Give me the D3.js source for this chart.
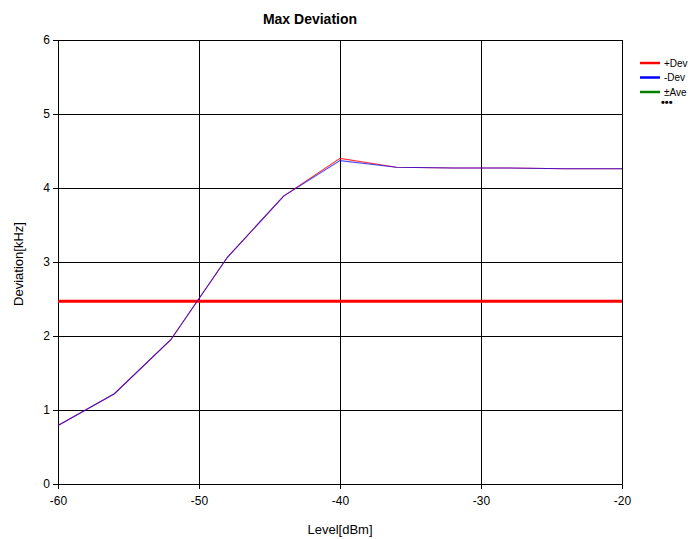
<!DOCTYPE html>
<html><head><meta charset="utf-8">
<script src="https://cdn.jsdelivr.net/npm/d3@7"></script>
<style>body{margin:0;background:#fff}svg{display:block;font-family:"Liberation Sans",Arial,sans-serif}</style>
</head><body><svg id="c" width="700" height="539"></svg>
<script>
const levels = [-60, -56, -52, -48, -44, -40, -36, -32, -28, -24, -20];
const plusDev = [0.79, 1.22, 1.95, 3.06, 3.89, 4.40, 4.28, 4.27, 4.27, 4.26, 4.26];
const minusDev = [0.79, 1.22, 1.95, 3.06, 3.89, 4.37, 4.28, 4.27, 4.27, 4.26, 4.26];
const aveLevel = 2.47;
const xTicks = [-60, -50, -40, -30, -20];
const yTicks = [0, 1, 2, 3, 4, 5, 6];
const legendNames = ["+Dev", "-Dev", "\u00b1Ave"];
const legendColors = ["#ff0000", "#0000ff", "#008000"];

const svg = d3.select("#c");
const L = 58, R = 622, T = 40, B = 484;
const x = d3.scaleLinear().domain([-60, -20]).range([L, R]);
const y = d3.scaleLinear().domain([0, 6]).range([B, T]);
const fmt = d => String(d);

// grid
const g = svg.append("g").attr("shape-rendering", "crispEdges");
g.selectAll(".vg").data(xTicks).join("line")
  .attr("x1", d => x(d)).attr("x2", d => x(d)).attr("y1", T).attr("y2", B)
  .attr("stroke", "#000").attr("stroke-width", 1);
g.selectAll(".hg").data(yTicks).join("line")
  .attr("x1", L).attr("x2", R).attr("y1", d => y(d)).attr("y2", d => y(d))
  .attr("stroke", "#000").attr("stroke-width", 1);

// axes
const xa = svg.append("g").attr("transform", `translate(0,${B})`)
  .call(d3.axisBottom(x).tickValues(xTicks).tickFormat(fmt).tickSize(5).tickPadding(7).tickSizeOuter(0));
const ya = svg.append("g").attr("transform", `translate(${L},0)`)
  .call(d3.axisLeft(y).tickValues(yTicks).tickFormat(fmt).tickSize(5).tickPadding(3).tickSizeOuter(0));
[xa, ya].forEach(a => {
  a.select(".domain").attr("stroke", "#000").attr("shape-rendering", "crispEdges");
  a.selectAll(".tick line").attr("stroke", "#000").attr("shape-rendering", "crispEdges");
  a.selectAll("text").attr("font-size", 12).attr("fill", "#000").attr("font-family", "Liberation Sans, Arial, sans-serif");
});

// ave line
svg.append("line").attr("x1", x(-60)).attr("x2", x(-20))
  .attr("y1", y(aveLevel)).attr("y2", y(aveLevel))
  .attr("stroke", "#ff0000").attr("stroke-width", 3);

const line = d3.line().x((d, i) => x(levels[i])).y(d => y(d));
svg.append("path").datum(plusDev).attr("d", line)
  .attr("fill", "none").attr("stroke", "#ff0000").attr("stroke-width", 1.1).attr("stroke-opacity", 0.8);
svg.append("path").datum(minusDev).attr("d", line)
  .attr("fill", "none").attr("stroke", "#0000ff").attr("stroke-width", 1.1).attr("stroke-opacity", 0.7);

// title
svg.append("text").attr("x", 310).attr("y", 24).attr("text-anchor", "middle")
  .attr("font-size", 14).attr("font-weight", "bold").text("Max Deviation");
svg.append("text").attr("x", 340).attr("y", 534).attr("text-anchor", "middle")
  .attr("font-size", 13).text("Level[dBm]");
svg.append("text").attr("transform", "translate(23,264) rotate(-90)").attr("text-anchor", "middle")
  .attr("font-size", 13).text("Deviation[kHz]");

// legend
const lg = svg.append("g");
legendNames.forEach((n, i) => {
  const yy = 63 + i * 14.5;
  lg.append("line").attr("x1", 640).attr("x2", 660).attr("y1", yy).attr("y2", yy)
    .attr("stroke", legendColors[i]).attr("stroke-width", 2.5);
  lg.append("text").attr("x", 664).attr("y", yy + 3.5).attr("font-size", 10).text(n);
});
lg.append("text").attr("x", 661).attr("y", 106).attr("font-size", 11).attr("font-weight", "bold").text("\u2022\u2022\u2022");
</script></body></html>
